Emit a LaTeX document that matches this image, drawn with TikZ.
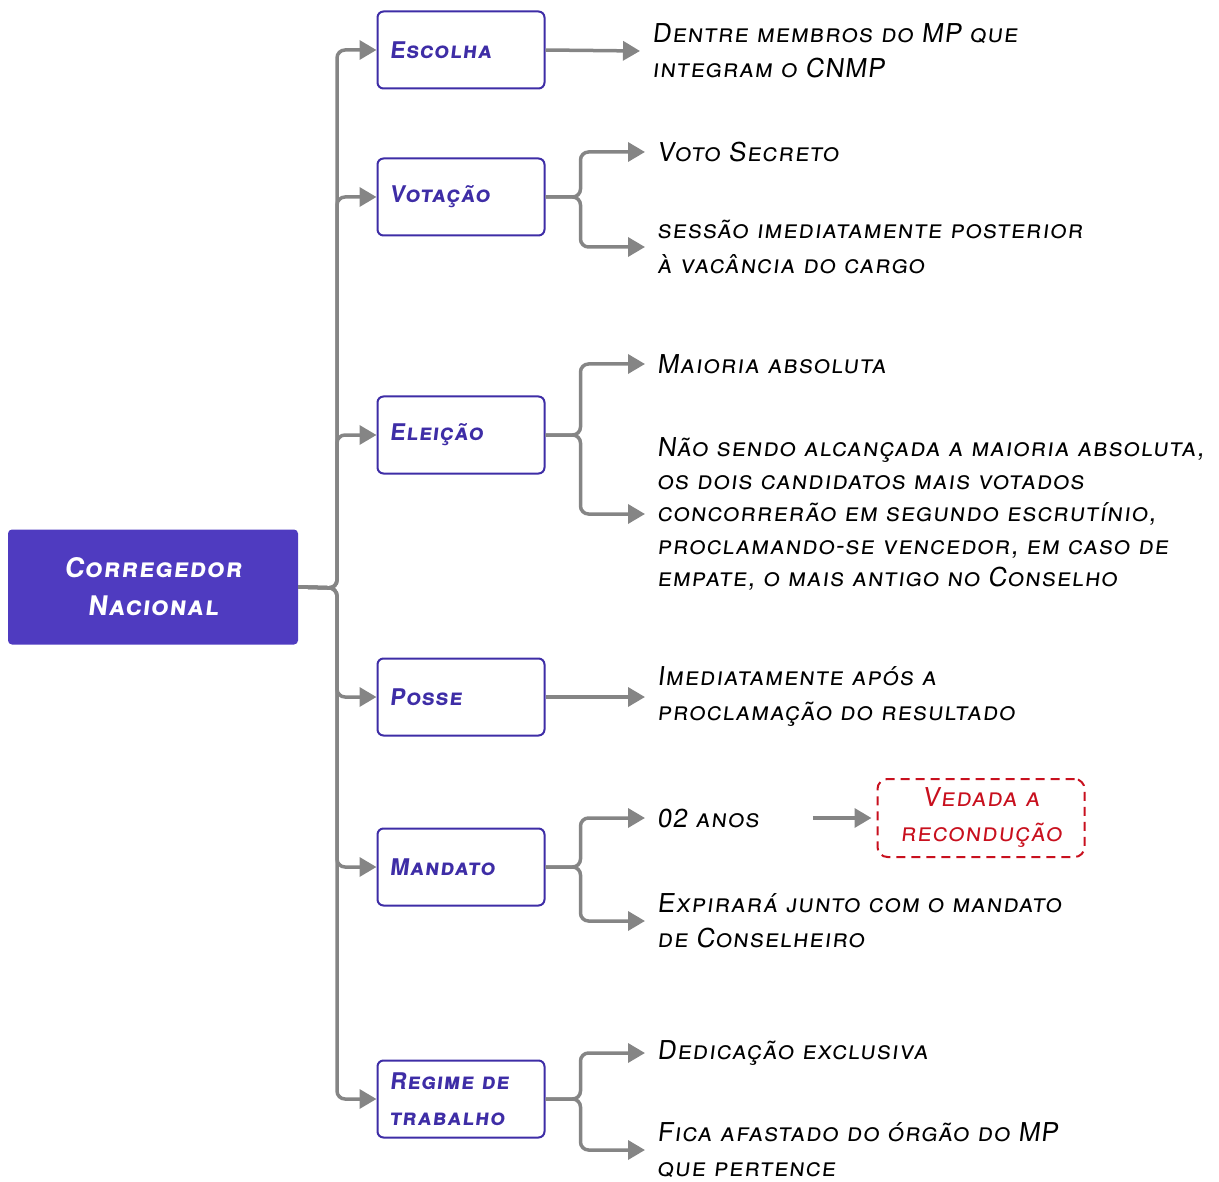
\documentclass[tikz,border=0pt]{standalone}
\usepackage{fontspec}
\setmainfont{TeX Gyre Heros}
\newfontfamily\handfont{TeX Gyre Heros}[Letters=SmallCaps, FakeSlant=0.12, LetterSpace=4]
\usepackage{xcolor}
\usetikzlibrary{arrows.meta, positioning, calc}
\definecolor{rootpurple}{HTML}{4F3BC0}
\definecolor{boxpurple}{HTML}{3E2DA6}
\definecolor{linkgray}{HTML}{858585}
\definecolor{vetored}{HTML}{C8101E}

\begin{document}
\begin{tikzpicture}[>={Triangle[length=17pt,width=19pt]}, x=1pt, y=-1pt,
    every node/.style={font=\handfont\fontsize{26}{35}\selectfont},
    topic/.style={draw=boxpurple, line width=2pt, rounded corners=6pt,
        text=boxpurple, minimum height=77pt, text width=143pt,
        inner xsep=12pt, align=left, font=\handfont\bfseries\fontsize{23}{36}\selectfont},
    leaf/.style={anchor=west, align=left, inner xsep=12pt, inner ysep=2pt},
    link/.style={draw=linkgray, line width=3.5pt, rounded corners=8pt, ->}]
        \useasboundingbox (0,0) rectangle (1219,1182);
        % root and topics
        \node[fill=rootpurple, text=white, minimum width=290pt, minimum height=115pt,
            rounded corners=4pt, align=center, inner sep=0pt,
            font=\handfont\bfseries\fontsize{27}{38}\selectfont] at (153,587) (root) {Corregedor\\Nacional};
        \node[topic] at (461,50) (escolha) {Escolha};
        \node[topic] at (461,197) (votacao) {Votação};
        \node[topic] at (461,435) (eleicao) {Eleição};
        \node[topic] at (461,697) (posse) {Posse};
        \node[topic] at (461,867) (mandato) {Mandato};
        \node[topic] at (461,1099) (regime) {Regime de\\trabalho};
        \coordinate (trunk) at (337,588);
        \foreach \t in {escolha, votacao, eleicao, posse, mandato, regime}
            \draw[link] (root.east) -- (trunk) |- (\t.west);
        % leaves
        \node[leaf] at (640,51) (dentre) {Dentre membros do MP que\\integram o CNMP};
        \node[leaf] at (645,152) (voto) {Voto Secreto};
        \node[leaf] at (645,247) (sessao) {sessão imediatamente posterior\\à vacância do cargo};
        \node[leaf] at (645,364) (maioria) {Maioria absoluta};
        \node[leaf, font=\handfont\fontsize{26}{32.5}\selectfont] at (645,514) (naosendo) {Não sendo alcançada a maioria absoluta,\\os dois candidatos mais votados\\concorrerão em segundo escrutínio,\\proclamando-se vencedor, em caso de\\empate, o mais antigo no Conselho};
        \node[leaf] at (645,818) (anos) {02 anos};
        \node[leaf] at (645,697) (proclam) {Imediatamente após a\\proclamação do resultado};
        \node[leaf] at (645,921) (expira) {Expirará junto com o mandato\\de Conselheiro};
        \node[leaf] at (645,1053) (dedica) {Dedicação exclusiva};
        \node[leaf] at (645,1150) (afasta) {Fica afastado do órgão do MP\\que pertence};
        \node[draw=vetored, text=vetored, dashed, dash pattern=on 9pt off 6pt, line width=2pt,
            rounded corners=10pt, minimum width=207pt, minimum height=78pt, align=center]
            at (981,818) (vedada) {Vedada a\\recondução};
        \draw[link] (escolha.east) -- (dentre.west);
        \draw[link] (votacao.east) -- ++(35,0) |- (voto.west);
        \draw[link] (votacao.east) -- ++(35,0) |- (sessao.west);
        \draw[link] (eleicao.east) -- ++(35,0) |- (maioria.west);
        \draw[link] (eleicao.east) -- ++(35,0) |- (naosendo.west);
        \draw[link] (posse.east) -- (proclam.west);
        \draw[link] (mandato.east) -- ++(35,0) |- (anos.west);
        \draw[link] (mandato.east) -- ++(35,0) |- (expira.west);
        \draw[link] (regime.east) -- ++(35,0) |- (dedica.west);
        \draw[link] (regime.east) -- ++(35,0) |- (afasta.west);
        \draw[link, shorten <=42pt, shorten >=5pt] (anos.east) -- (vedada.west);
    \end{tikzpicture}
\end{document}
